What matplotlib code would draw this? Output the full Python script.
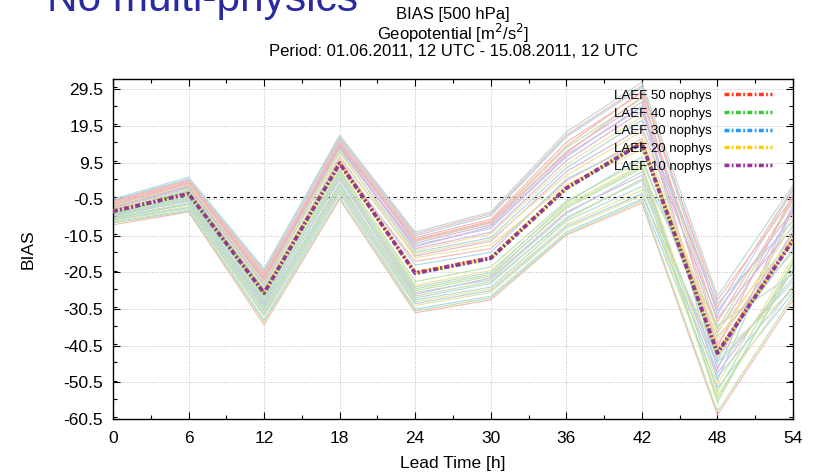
import matplotlib.pyplot as plt
from matplotlib.ticker import MultipleLocator

plt.rcParams['font.family'] = ['Liberation Sans', 'DejaVu Sans']

# lead times [h]
lead = [0, 6, 12, 18, 24, 30, 36, 42, 48, 54]

# single ensemble members (thin lines)
members = [
    [-1.0, 4.8, -20.5, 16.5, -10.0, -4.5, 17.0, 30.5, -30.0, 2.5],
    [-2.0, 3.5, -22.0, 14.0, -12.0, -7.0, 13.5, 27.0, -36.0, -1.0],
    [-6.8, -3.5, -33.5, 1.0, -30.5, -27.0, -9.5, -0.5, -52.0, -26.0],
    [-3.0, 2.0, -24.5, 12.0, -14.5, -10.0, 9.0, 22.0, -44.0, -5.0],
    [-5.0, -1.0, -29.0, 5.0, -26.5, -22.0, -4.0, 6.0, -48.0, -20.0],
    [-0.5, 5.5, -19.5, 17.0, -9.5, -4.0, 17.8, 31.4, -27.0, 3.3],
    [-7.5, -4.0, -34.8, -0.5, -31.5, -28.0, -10.3, -1.6, -59.4, -28.0],
    [-4.2, 0.0, -27.0, 7.5, -23.0, -19.0, -1.0, 10.0, -38.0, -15.0],
    [-2.5, 3.0, -23.0, 13.0, -13.0, -8.5, 11.0, 25.0, -50.0, -3.0],
    [-6.0, -2.5, -31.5, 2.5, -28.5, -25.0, -7.5, 2.0, -54.0, -24.0],
    [-3.5, 1.5, -25.5, 11.0, -16.0, -12.0, 7.0, 19.0, -33.0, -8.0],
    [-5.5, -1.5, -30.0, 4.0, -27.5, -23.5, -5.5, 4.5, -46.0, -22.0],
    [-1.5, 4.2, -21.5, 15.5, -11.0, -6.0, 15.0, 28.5, -41.0, 1.0],
    [-4.8, -0.5, -28.0, 6.0, -25.0, -21.0, -3.0, 8.0, -56.0, -18.0],
    [-3.2, 2.5, -24.0, 12.5, -15.0, -11.0, 8.0, 21.0, -29.0, -6.5],
    [-6.5, -3.0, -32.5, 1.5, -29.5, -26.0, -8.5, 0.5, -43.0, -25.5],
    [-2.2, 3.8, -22.5, 14.5, -12.5, -7.5, 12.5, 26.0, -47.0, -2.0],
    [-5.2, -0.8, -29.5, 5.5, -26.0, -22.5, -4.5, 7.0, -35.0, -21.0],
    [-4.0, 1.0, -26.0, 9.0, -17.5, -14.0, 4.5, 16.0, -40.0, -10.0],
    [-7.0, -3.8, -34.0, 0.0, -31.0, -27.5, -10.0, -1.0, -58.5, -27.0],
    [-0.8, 5.0, -20.0, 16.0, -10.5, -5.0, 16.5, 30.0, -32.0, 2.0],
    [-3.8, 0.8, -26.5, 8.0, -24.0, -20.0, -2.0, 9.0, -51.0, -16.5],
    [-2.8, 2.8, -23.5, 13.5, -14.0, -9.5, 10.0, 23.5, -37.0, -4.0],
    [-5.8, -2.0, -31.0, 3.0, -28.0, -24.5, -6.5, 3.0, -45.0, -23.0],
    [-1.2, 4.5, -21.0, 15.0, -11.5, -6.5, 14.0, 29.0, -28.0, 0.0],
    [-4.5, 0.5, -27.5, 6.5, -25.5, -21.5, -2.5, 8.5, -53.0, -17.5],
    [-6.2, -2.8, -32.0, 2.0, -29.0, -25.5, -8.0, 1.0, -49.0, -24.5],
    [-3.4, 2.2, -25.0, 10.5, -15.5, -11.5, 6.0, 18.0, -39.0, -7.5],
    [-2.6, 3.2, -22.8, 13.8, -13.5, -8.0, 11.5, 24.5, -31.0, -3.5],
    [-4.6, -0.2, -28.5, 7.0, -24.5, -20.5, -1.5, 11.0, -42.0, -14.0],
    [-1.8, 4.0, -21.8, 14.8, -11.8, -6.8, 12.0, 27.5, -34.0, -0.5],
    [-5.6, -1.8, -30.5, 3.5, -27.0, -23.0, -6.0, 5.0, -55.0, -19.5],
    [-3.6, 1.8, -25.2, 10.0, -18.5, -15.0, 5.0, 15.0, -44.5, -9.0],
    [-2.4, 3.4, -23.2, 12.8, -16.5, -13.0, 3.5, 13.0, -36.5, -11.0],
]
member_colors = ['#f6b8b0', '#bde2a8', '#aad6ea', '#ece39c', '#dab4dc', '#b9d9d6']

# ensemble means (thick dash-dot lines)
laef50 = [-3.8, 1.0, -26.1, 9.4, -20.6, -16.5, 2.6, 14.8, -42.3, -11.6]
laef40 = [-3.9, 1.1, -26.0, 9.3, -20.7, -16.6, 2.5, 14.9, -42.4, -11.7]
laef30 = [-3.8, 0.9, -26.2, 9.2, -20.8, -16.7, 2.4, 14.7, -42.6, -11.8]
laef20 = [-3.7, 1.0, -26.0, 9.3, -20.6, -16.6, 2.5, 14.8, -42.5, -11.7]
laef10 = [-3.8, 1.0, -26.1, 9.3, -20.7, -16.6, 2.5, 14.8, -42.5, -11.7]
means = [laef50, laef40, laef30, laef20, laef10]
mean_labels = ['LAEF 50 nophys', 'LAEF 40 nophys', 'LAEF 30 nophys', 'LAEF 20 nophys', 'LAEF 10 nophys']
mean_colors = ['#ff3a1a', '#33cc33', '#1e9bff', '#ffcc00', '#993399']

fig = plt.figure(figsize=(8.14, 4.75), dpi=100)
ax = fig.add_axes([0.1388, 0.1179, 0.8354, 0.7158])

for i, m in enumerate(members):
    ax.plot(lead, m, color=member_colors[i % len(member_colors)], lw=0.8, zorder=2)

ax.axhline(0, color='black', lw=0.8, linestyle=(0, (3, 3)), zorder=1)

for vals, lab, col in zip(means, mean_labels, mean_colors):
    ax.plot(lead, vals, color=col, lw=2.5, linestyle=(0, (1.4, 0.7, 0.5, 0.7)),
            label=lab, zorder=3)

ax.set_xlim(0, 54)
ax.set_ylim(-60.5, 32.3)
ax.set_xticks(lead)
ax.set_yticks([-60.5, -50.5, -40.5, -30.5, -20.5, -10.5, -0.5, 9.5, 19.5, 29.5])
ax.set_yticklabels(['-60.5', '-50.5', '-40.5', '-30.5', '-20.5', '-10.5', '-0.5', '9.5', '19.5', '29.5'])
ax.xaxis.set_minor_locator(MultipleLocator(3))
ax.yaxis.set_minor_locator(MultipleLocator(5))
ax.tick_params(which='both', direction='in', top=True, right=True, labelsize=12.5, width=0.8)
ax.tick_params(which='major', length=5)
ax.tick_params(axis='x', which='major', pad=9)
ax.tick_params(axis='y', which='major', pad=7)
ax.tick_params(which='minor', length=3)
for s in ax.spines.values():
    s.set_linewidth(1.0)
ax.grid(True, which='major', color='#bbbbbb', linestyle=':', lw=0.7)

ax.set_xlabel('Lead Time [h]', fontsize=12.5, labelpad=7)
ax.set_ylabel('BIAS', fontsize=12.5, labelpad=20)

ax.legend(loc='upper right', frameon=False, markerfirst=False, fontsize=9.5,
          handlelength=3.6, handletextpad=0.9, labelspacing=0.42,
          borderaxespad=0.3, borderpad=0.5, bbox_to_anchor=(0.984, 1.0))

fig.text(0.5566, 1 - 15 / 475, 'BIAS [500 hPa]', ha='center', va='center', fontsize=12)
fig.text(0.5566, 1 - 33 / 475, 'Geopotential [m$^2$/s$^2$]', ha='center', va='center', fontsize=12)
fig.text(0.5566, 1 - 51 / 475, 'Period: 01.06.2011, 12 UTC - 15.08.2011, 12 UTC',
         ha='center', va='center', fontsize=12)

fig.text(47 / 814, 1 - 11 / 475, 'No multi-physics', ha='left', va='baseline',
         fontsize=30.5, color='#2a2aa0')

plt.savefig('out.png', dpi=100)
